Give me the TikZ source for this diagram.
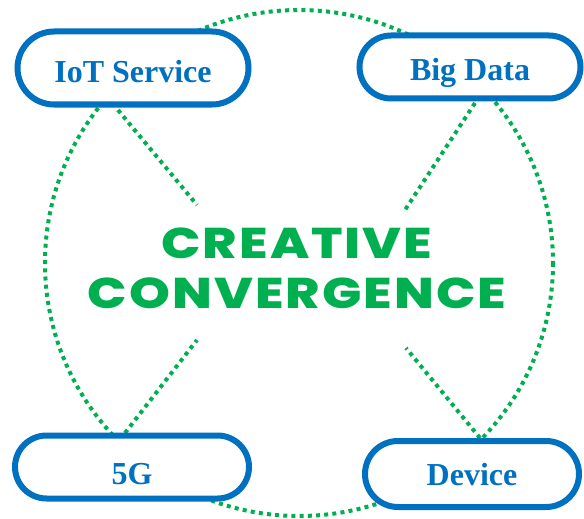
\documentclass[tikz,border=0pt]{standalone}
\usepackage{fontspec}
\setmainfont{Liberation Serif}
\newfontfamily\convfont[LetterSpace=4]{Poppins ExtraBold}
\usetikzlibrary{shapes.misc}
\definecolor{boxblue}{HTML}{0070C0}
\definecolor{dotgreen}{HTML}{00B050}
% lower a box label by #1 below the cap-centred position
\newcommand{\boxtext}[2]{\raisebox{-#1}[0pt][0pt]{#2}}

\begin{document}
\begin{tikzpicture}[x=1pt, y=-1pt,
                box/.style = {draw=boxblue, line width=6pt, fill=white, rounded rectangle,
                              inner sep=0pt, text=boxblue, font=\fontsize{32}{36}\selectfont\bfseries},
                dots/.style = {draw=dotgreen, line width=4pt, dash pattern=on 4pt off 4.2pt}
            ]
            \useasboundingbox (0,0) rectangle (584,519);
            % dotted ring
            \draw[dots] (299,263) ellipse [x radius=254, y radius=253];
            % spokes towards the middle
            \coordinate (iotfoot) at (118,110);
            \coordinate (iotend) at (197,205);
            \coordinate (bigfoot) at (475,103);
            \coordinate (bigend) at (405,210);
            \coordinate (fivefoot) at (125,433);
            \coordinate (fiveend) at (197,340);
            \coordinate (devfoot) at (480,438);
            \coordinate (devend) at (406,348);
            \draw[dots] (iotfoot) -- (iotend);
            \draw[dots] (bigfoot) -- (bigend);
            \draw[dots] (fivefoot) -- (fiveend);
            \draw[dots] (devfoot) -- (devend);
            % the four boxes
            \node[box, minimum width=231pt, minimum height=73pt] (iot) at (133,68) {\boxtext{14.5pt}{IoT Service}};
            \node[box, minimum width=221pt, minimum height=63pt] (bigdata) at (470,67) {\boxtext{13.5pt}{Big Data}};
            \node[box, minimum width=234pt, minimum height=63pt] (fiveg) at (132,467) {\boxtext{17pt}{5G}};
            \node[box, minimum width=214pt, minimum height=66pt] (device) at (472,474) {\boxtext{11.5pt}{Device}};
            % title
            \begin{scope}[shift={(297,268)}, xscale=1.21]
                \node[transform shape, text=dotgreen, align=center, font=\convfont\fontsize{43}{50}\selectfont]
                    (title) at (0,0) {CREATIVE\\CONVERGENCE};
            \end{scope}
        \end{tikzpicture}
\end{document}
